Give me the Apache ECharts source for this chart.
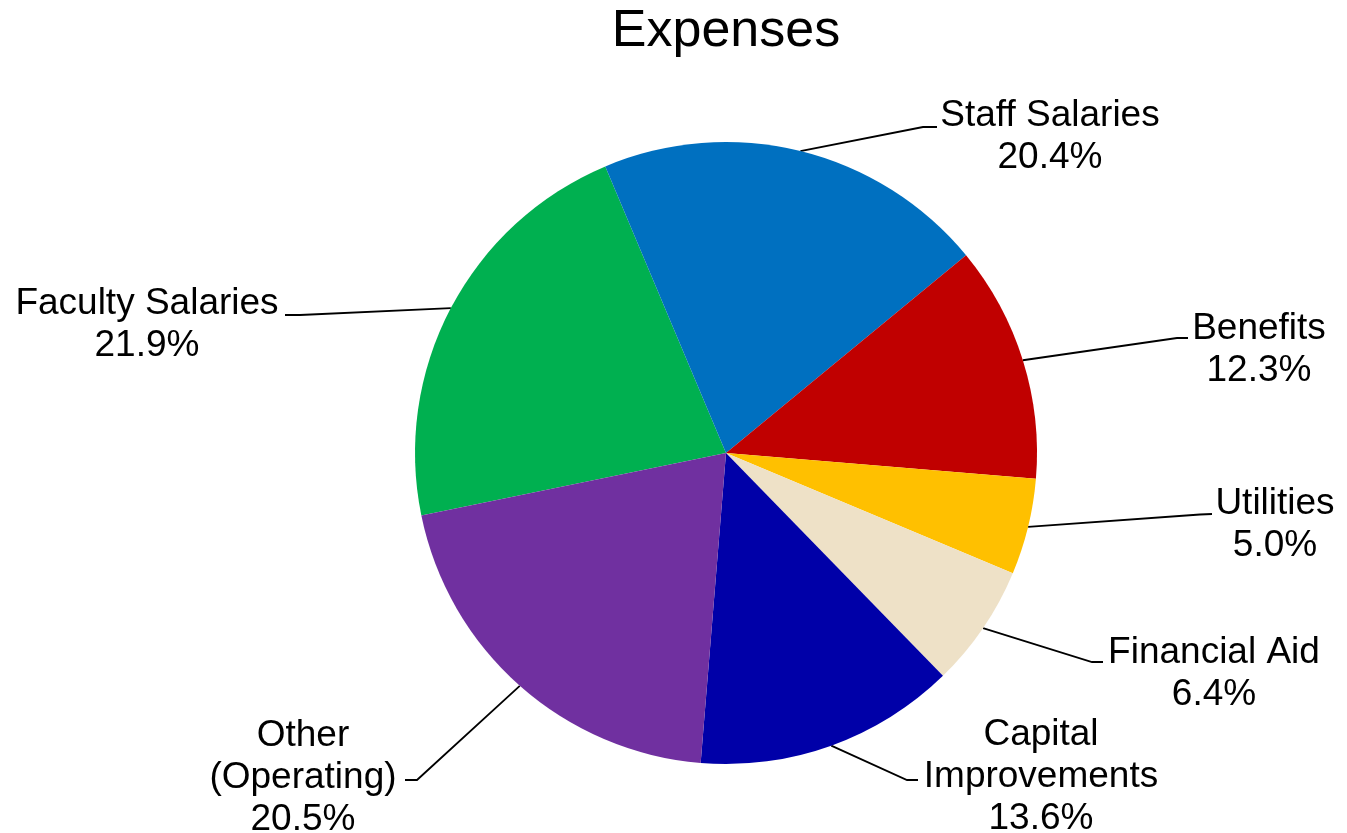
<!DOCTYPE html>
<html><head><meta charset="utf-8">
<script src="https://cdn.jsdelivr.net/npm/echarts/dist/echarts.min.js"></script>
<style>html,body{margin:0;padding:0;background:#fff}#chart{width:1347px;height:833px}</style>
</head><body><div id="chart"></div>
<script>
// ---- data ----
const categories = ['Faculty Salaries', 'Staff Salaries', 'Benefits', 'Utilities', 'Financial Aid', 'Capital\nImprovements', 'Other\n(Operating)'];
const values = [21.9, 20.4, 12.3, 5.0, 6.4, 13.6, 20.5];
const colors = ['#00B050', '#0070C0', '#C00000', '#FFC000', '#EEE1C7', '#0000A8', '#7030A0'];

// ---- label placement (layout only) ----
const labelPlace = [
  { x: 147,  y: 325, elbow: [300, 315], end: [285, 315] },
  { x: 1050, y: 137, elbow: [923, 127], end: [937, 127] },
  { x: 1259, y: 350, elbow: [1177, 338], end: [1188, 338] },
  { x: 1275, y: 525, elbow: [1200, 514.5], end: [1212, 514] },
  { x: 1214, y: 674, elbow: [1092, 662], end: [1103, 662] },
  { x: 1041, y: 777, elbow: [907, 780], end: [918, 780] },
  { x: 303,  y: 778, elbow: [417, 780], end: [405, 780] }
];

const chart = echarts.init(document.getElementById('chart'), null, { renderer: 'canvas' });
const FONT = '"Liberation Sans", Arial, Helvetica, sans-serif';

chart.setOption({
  animation: false,
  backgroundColor: '#ffffff',
  title: {
    text: 'Expenses',
    left: 721,
    textAlign: 'center',
    top: 1,
    textStyle: { fontSize: 52, fontWeight: 'normal', color: '#000', fontFamily: FONT }
  },
  series: [{
    type: 'pie',
    center: [726, 453],
    radius: 311,
    startAngle: 191.6,
    clockwise: true,
    avoidLabelOverlap: false,
    emphasis: { disabled: true },
    itemStyle: { borderWidth: 0 },
    label: {
      show: true,
      position: 'outside',
      formatter: p => p.name + '\n' + p.value.toFixed(1) + '%',
      fontSize: 37,
      lineHeight: 42,
      color: '#000',
      fontFamily: FONT,
      align: 'center'
    },
    labelLine: {
      show: true,
      length: 10,
      length2: 10,
      smooth: false,
      lineStyle: { color: '#000', width: 1.8 }
    },
    labelLayout: function (params) {
      const pl = labelPlace[params.dataIndex];
      const p0 = params.labelLinePoints ? params.labelLinePoints[0] : pl.elbow;
      return {
        x: pl.x,
        y: pl.y,
        align: 'center',
        verticalAlign: 'middle',
        labelLinePoints: [p0, pl.elbow, pl.end]
      };
    },
    data: categories.map((c, i) => ({ name: c, value: values[i], itemStyle: { color: colors[i] } }))
  }]
});
</script>
</body></html>
